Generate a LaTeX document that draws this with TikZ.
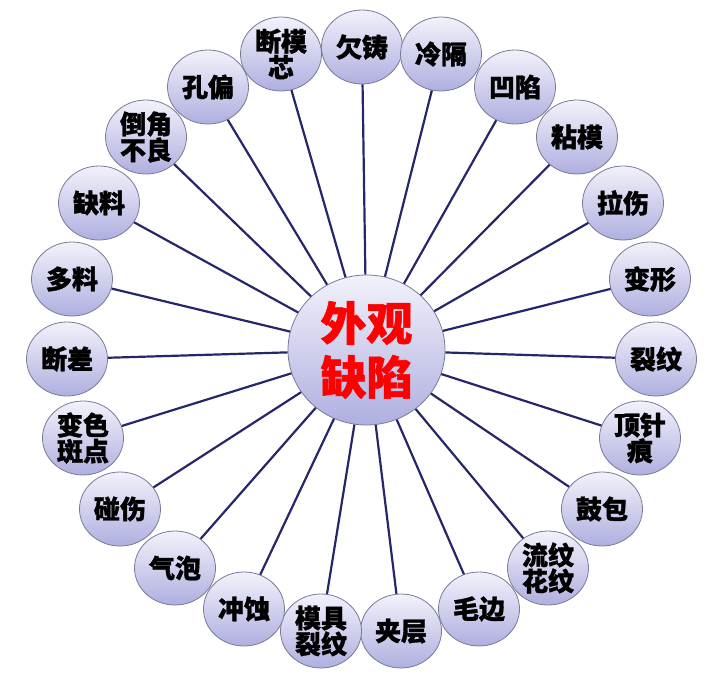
\documentclass[tikz,border=0pt]{standalone}
\usepackage{fontspec}
\newfontfamily\cjk{Noto Sans CJK SC}[BoldFeatures={FakeBold=1.2}]
\usetikzlibrary{shapes.geometric}
\definecolor{linec}{HTML}{26266A}
\definecolor{ringc}{HTML}{7A7A98}
\definecolor{topc}{HTML}{F2F2FB}
\definecolor{botc}{HTML}{AFAFE0}
\tikzset{
  leaf/.style={ellipse, draw=ringc, line width=0.8pt, top color=topc, bottom color=botc,
    minimum width=81pt, minimum height=74pt, inner sep=0pt, align=center,
    font=\cjk\bfseries\fontsize{26}{26}\selectfont, text=black},
  hub/.style={ellipse, draw=ringc, line width=0.8pt, top color=topc, bottom color=botc,
    minimum width=157pt, minimum height=150pt, inner sep=0pt, align=center,
    font=\cjk\bfseries\fontsize{46}{54}\selectfont, text=red},
  spoke/.style={draw=linec, line width=2.2pt}
}
\begin{document}
\begin{tikzpicture}[x=1pt,y=-1pt]
\useasboundingbox (0,0) rectangle (718,678);
\node[hub] (c) at (366.5,350) {外观\\缺陷};
\node[leaf] (n1) at (362,47) {欠铸};
\node[leaf] (n2) at (441,54) {冷隔};
\node[leaf] (n3) at (515,87) {凹陷};
\node[leaf] (n4) at (577,137) {粘模};
\node[leaf] (n5) at (623,203) {拉伤};
\node[leaf] (n6) at (650,279) {变形};
\node[leaf] (n7) at (656,359) {裂纹};
\node[leaf] (n8) at (640,438) {顶针\\痕};
\node[leaf] (n9) at (602,509) {鼓包};
\node[leaf] (n10) at (548,568) {流纹\\花纹};
\node[leaf] (n11) at (479,609) {毛边};
\node[leaf] (n12) at (401,631) {夹层};
\node[leaf] (n13) at (321,631) {模具\\裂纹};
\node[leaf] (n14) at (244,609) {冲蚀};
\node[leaf] (n15) at (175,568) {气泡};
\node[leaf] (n16) at (120,509) {碰伤};
\node[leaf] (n17) at (83,438) {变色\\斑点};
\node[leaf] (n18) at (67,359) {断差};
\node[leaf] (n19) at (72,279) {多料};
\node[leaf] (n20) at (99,203) {缺料};
\node[leaf] (n21) at (146,137) {倒角\\不良};
\node[leaf] (n22) at (208,87) {孔偏};
\node[leaf] (n23) at (281,54) {断模\\芯};
\foreach \i in {1,...,23} \draw[spoke] (c) -- (n\i);
\end{tikzpicture}
\end{document}
